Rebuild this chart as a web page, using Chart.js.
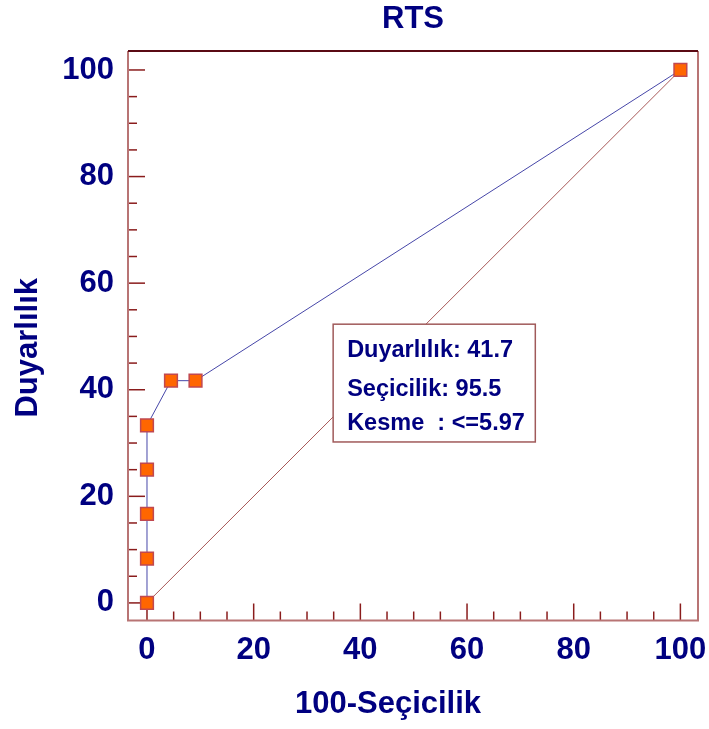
<!DOCTYPE html>
<html>
<head>
<meta charset="utf-8">
<script src="https://cdn.jsdelivr.net/npm/chart.js@4.4.0/dist/chart.umd.min.js"></script>
<style>
  html, body { margin: 0; padding: 0; background: #fff; }
</style>
</head>
<body>
<canvas id="roc" width="709" height="729"></canvas>
<script>
// ROC curve points (100-Seçicilik, Duyarlılık)
const rocX = [0, 0, 0, 0, 0, 4.5, 9.1, 100];
const rocY = [0, 8.3, 16.7, 25, 33.3, 41.7, 41.7, 100];
// reference diagonal
const diagX = [0, 100];
const diagY = [0, 100];
// ticks
const majorTicks = [0, 20, 40, 60, 80, 100];
const minorTicks = [5, 10, 15, 25, 30, 35, 45, 50, 55, 65, 70, 75, 85, 90, 95];
// texts
const chartTitle = 'RTS';
const xTitle = '100-Seçicilik';
const yTitle = 'Duyarlılık';
const infoLines = ['Duyarlılık: 41.7', 'Seçicilik: 95.5', 'Kesme  : <=5.97'];

const NAVY = '#000080';
const FONT = "'Liberation Sans', Arial, sans-serif";

const toPoints = (xs, ys) => xs.map((v, i) => ({ x: v, y: ys[i] }));

// frame, inside ticks, info box and axis titles
const decor = {
    id: 'decor',
    beforeDatasetsDraw(chart) {
        const { ctx, chartArea: a, scales: { x, y } } = chart;
        ctx.save();
        ctx.strokeStyle = '#8a1c1c';
        ctx.lineWidth = 1.5;
        const drawTicks = (vals, len) => {
            vals.forEach(v => {
                const px = x.getPixelForValue(v);
                ctx.beginPath();
                ctx.moveTo(px, a.bottom);
                ctx.lineTo(px, a.bottom - len);
                ctx.stroke();
                const py = y.getPixelForValue(v);
                ctx.beginPath();
                ctx.moveTo(a.left, py);
                ctx.lineTo(a.left + len, py);
                ctx.stroke();
            });
        };
        drawTicks(majorTicks, 17);
        drawTicks(minorTicks, 9);

        ctx.lineWidth = 2;
        ctx.strokeStyle = '#b87474';
        ctx.beginPath();
        ctx.moveTo(a.left, a.top);
        ctx.lineTo(a.left, a.bottom);
        ctx.lineTo(a.right, a.bottom);
        ctx.lineTo(a.right, a.top);
        ctx.stroke();
        ctx.strokeStyle = '#5a0a14';
        ctx.beginPath();
        ctx.moveTo(a.left, a.top);
        ctx.lineTo(a.right, a.top);
        ctx.stroke();
        ctx.restore();
    },
    afterDatasetsDraw(chart) {
        const { ctx, scales: { x, y } } = chart;
        const left = x.getPixelForValue(34.9);
        const right = x.getPixelForValue(72.8);
        const top = y.getPixelForValue(52.3);
        const bottom = y.getPixelForValue(30.2);
        ctx.save();
        ctx.fillStyle = '#fff';
        ctx.fillRect(left, top, right - left, bottom - top);
        ctx.strokeStyle = '#a05a5a';
        ctx.lineWidth = 1.5;
        ctx.strokeRect(left, top, right - left, bottom - top);
        ctx.fillStyle = NAVY;
        ctx.font = 'bold 23.5px ' + FONT;
        ctx.textBaseline = 'alphabetic';
        const baselines = [33, 72, 106];
        infoLines.forEach((t, i) => ctx.fillText(t, left + 14, top + baselines[i]));
        ctx.restore();
    },
    afterDraw(chart) {
        const { ctx, chartArea: a } = chart;
        ctx.save();
        ctx.fillStyle = NAVY;
        ctx.font = 'bold 31px ' + FONT;
        ctx.textAlign = 'center';
        ctx.textBaseline = 'alphabetic';
        ctx.fillText(xTitle, (a.left + a.right) / 2 - 25, 713);
        ctx.translate(37, (a.top + a.bottom) / 2 + 12);
        ctx.rotate(-Math.PI / 2);
        ctx.fillText(yTitle, 0, 0);
        ctx.restore();
    }
};

const tickFont = { family: FONT, size: 31, weight: 'bold' };

// keep the plot box fixed: no extra padding for overhanging labels
const noPad = s => { s.paddingLeft = 0; s.paddingRight = 0; s.paddingTop = 0; s.paddingBottom = 0; };

new Chart(document.getElementById('roc'), {
    type: 'scatter',
    data: {
        datasets: [{
            label: 'ROC',
            data: toPoints(rocX, rocY),
            showLine: true,
            borderColor: '#4646a8',
            borderWidth: 1,
            pointStyle: 'rect',
            pointRadius: 9,
            pointBackgroundColor: '#ff6600',
            pointBorderColor: '#c04850',
            pointBorderWidth: 1.5,
            order: 1
        }, {
            label: 'Diagonal',
            data: toPoints(diagX, diagY),
            showLine: true,
            borderColor: '#a85858',
            borderWidth: 1,
            pointRadius: 0,
            order: 2
        }]
    },
    options: {
        responsive: false,
        devicePixelRatio: 1,
        animation: false,
        layout: { padding: { top: 0, right: 11, bottom: 0, left: 0 } },
        plugins: {
            legend: { display: false },
            tooltip: { enabled: false },
            title: {
                display: true,
                text: chartTitle,
                fullSize: false,
                color: NAVY,
                font: { family: FONT, size: 31, weight: 'bold' },
                padding: { top: 1, bottom: 12.8 }
            }
        },
        scales: {
            x: {
                type: 'linear',
                min: -3.56,
                max: 103.3,
                grid: { display: false, drawTicks: false },
                border: { display: false },
                afterBuildTicks: s => { s.ticks = majorTicks.map(v => ({ value: v })); },
                afterFit: s => { s.height = 108.5; noPad(s); },
                ticks: { color: NAVY, font: tickFont, padding: 11, maxRotation: 0 }
            },
            y: {
                type: 'linear',
                min: -3.3,
                max: 103.56,
                grid: { display: false, drawTicks: false },
                border: { display: false },
                afterBuildTicks: s => { s.ticks = majorTicks.map(v => ({ value: v })); },
                afterFit: s => { s.width = 128; noPad(s); },
                ticks: { color: NAVY, font: tickFont, padding: 14 }
            }
        }
    },
    plugins: [decor]
});
</script>
</body>
</html>
